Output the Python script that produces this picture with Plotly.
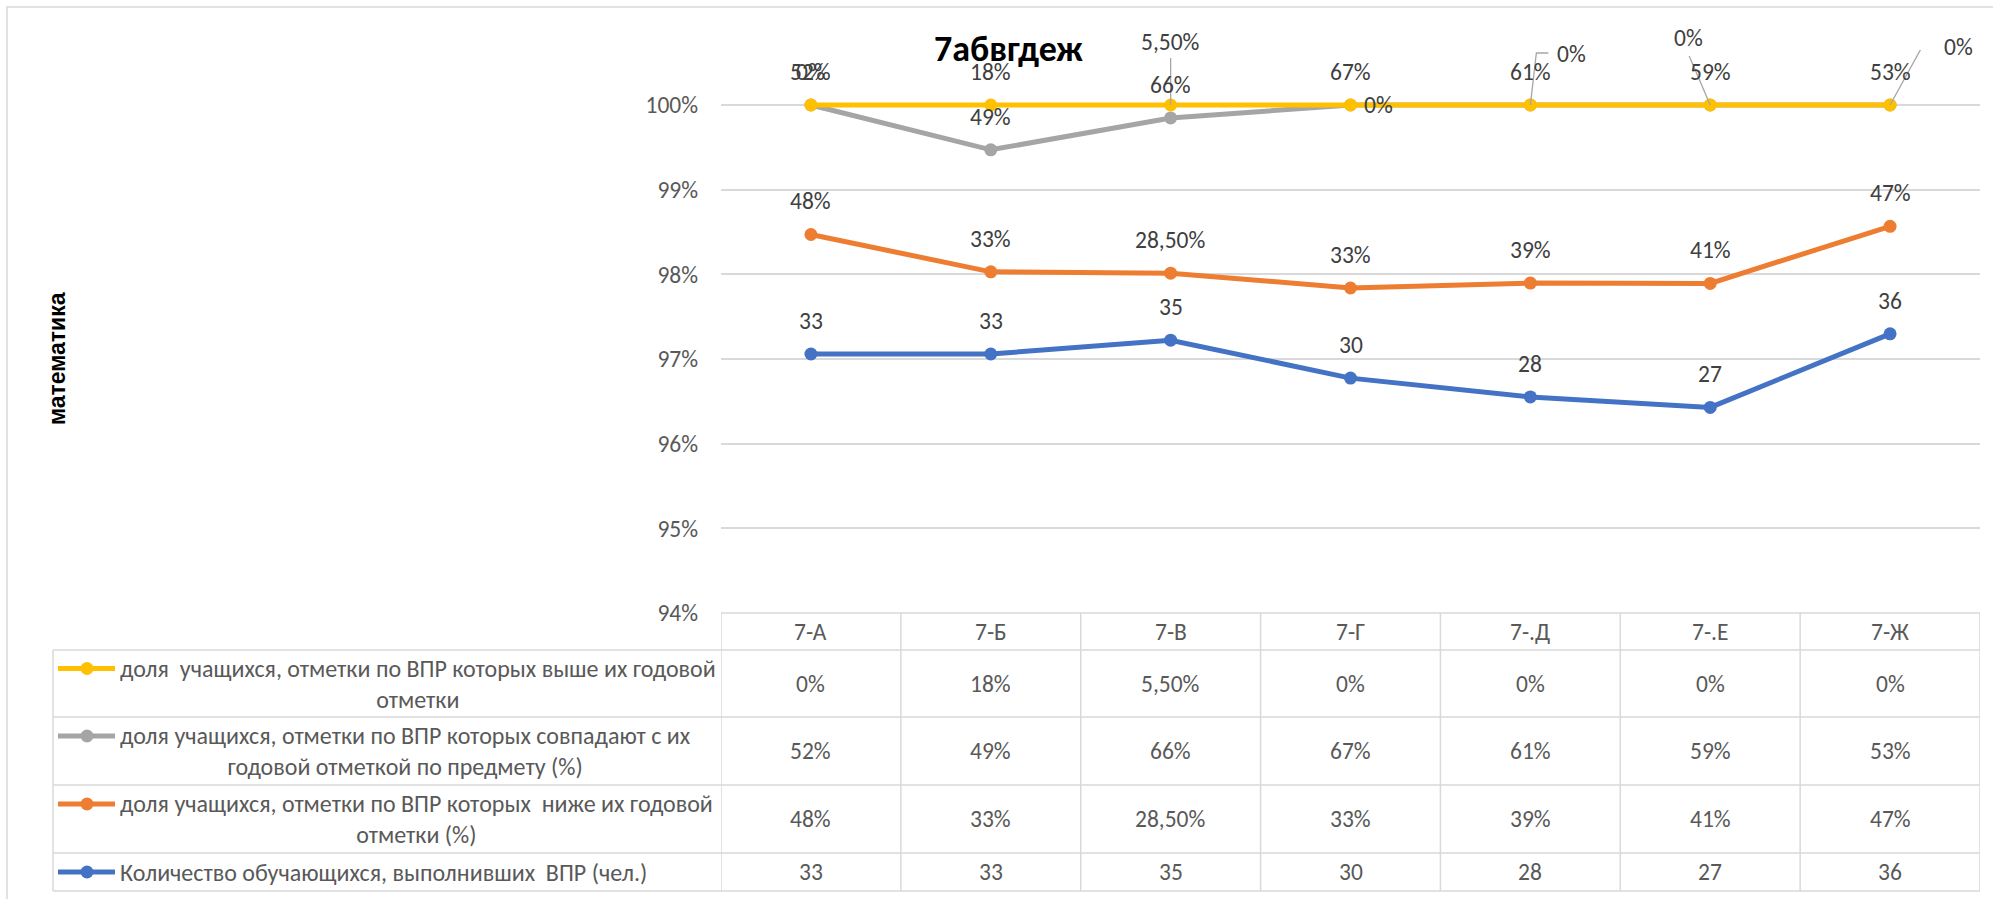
import numpy as np
import plotly.graph_objects as go

# ---------------- data ----------------
classes = ["7-А", "7-Б", "7-В", "7-Г", "7-.Д", "7-.Е", "7-Ж"]
above_pct = [0, 18, 5.5, 0, 0, 0, 0]          # доля выше годовой (%)
same_pct = [52, 49, 66, 67, 61, 59, 53]       # доля совпадают (%)
below_pct = [48, 33, 28.5, 33, 39, 41, 47]    # доля ниже (%)
count = [33, 33, 35, 30, 28, 27, 36]          # количество (чел.)

series_names = [
    "доля  учащихся, отметки по ВПР которых выше их годовой<br>отметки",
    "доля учащихся, отметки по ВПР которых совпадают с их<br>годовой отметкой по предмету (%)",
    "доля учащихся, отметки по ВПР которых  ниже их годовой<br>отметки (%)",
    "Количество обучающихся, выполнивших  ВПР (чел.)",
]
title_text = "7абвгдеж"
ytitle_text = "математика"

# ---------------- styling ----------------
W, H = 1993, 899
L, R, T, B = 721, 13, 50, 286
PW, PH = W - L - R, H - T - B
Y_MIN, Y_MAX = 94, 100 + 55 / 84.67   # 100% sits 55px below plot top
FONT = "Carlito, Lato, Roboto, 'Noto Sans', sans-serif"
C_Y, C_G, C_O, C_B = "#FFC000", "#A5A5A5", "#ED7D31", "#4472C4"
GRID = "#d9d9d9"
TXT = "#595959"
LBL = "#404040"
FS = 23.5
FS_ROW = 24


def px(x):
    return (x - L) / PW


def py(y):
    return (H - B - y) / PH


def fmt_pct(v):
    if float(v) == int(v):
        return f"{int(v)}%"
    return f"{v:.2f}%".replace(".", ",")


# 100% stacked line: Excel stacks raw values (percent as fractions)
raw = np.array([count, np.array(below_pct) / 100, np.array(same_pct) / 100,
                np.array(above_pct) / 100], dtype=float)
cum = np.cumsum(raw, axis=0)
pos = cum / cum[-1] * 100  # stacked position in percent

fig = go.Figure()
stack_info = [
    (pos[0], C_B, [str(v) for v in count]),
    (pos[1], C_O, [fmt_pct(v) for v in below_pct]),
    (pos[2], C_G, [fmt_pct(v) for v in same_pct]),
    (pos[3], C_Y, [fmt_pct(v) for v in above_pct]),
]
for yv, col, _ in stack_info:
    fig.add_trace(go.Scatter(
        x=classes, y=yv, mode="lines+markers",
        line=dict(color=col, width=5),
        marker=dict(color=col, size=13),
        cliponaxis=False, showlegend=False, hoverinfo="skip"))

annotations = []
shapes = []

# data labels (above the points)
special = {  # yellow series custom label placements: idx -> (xshift, yshift, leader path)
    2: (0, 63, "M 0,47 L 0,0"),
    3: (28, 0, None),
    4: (41, 51, "M 18,52 L 6,52 L 0,0"),
    5: (-22, 67, "M -21,49 L 0,0"),
    6: (68, 58, "M 0,0 L 33,60 L 44,60"),
}
for si, (yv, col, texts) in enumerate(stack_info):
    for i, c in enumerate(classes):
        xs, ys, path = 0, 33, None
        if si == 3 and i in special:
            xs, ys, path = special[i]
        annotations.append(dict(
            x=c, y=yv[i], xref="x", yref="y", text=texts[i], showarrow=False,
            xanchor="center", yanchor="middle",
            xshift=xs, yshift=ys, font=dict(family=FONT, size=FS, color=LBL)))
        if path:
            shapes.append(dict(
                type="path", xref="x", yref="y", xsizemode="pixel", ysizemode="pixel",
                xanchor=c, yanchor=yv[i], path=path,
                line=dict(color="#a6a6a6", width=1.3), layer="above"))

# title
annotations.append(dict(x=px(1008), y=py(49), xref="paper", yref="paper", text=f"<b>{title_text}</b>",
                        showarrow=False, xanchor="center", yanchor="middle",
                        font=dict(family=FONT, size=36, color="#000000")))
# y axis title
annotations.append(dict(x=px(57), y=py(359), xref="paper", yref="paper", text=f"<b>{ytitle_text}</b>",
                        showarrow=False, textangle=-90, xanchor="center", yanchor="middle",
                        font=dict(family="'Liberation Sans', Arial, sans-serif", size=23, color="#000000")))

# ---------------- data table ----------------
row_edges = [650, 717, 785, 853, 891]
row_centers = [(row_edges[k] + row_edges[k + 1]) / 2 for k in range(4)]
table_values = [
    [fmt_pct(v) for v in above_pct],
    [fmt_pct(v) for v in same_pct],
    [fmt_pct(v) for v in below_pct],
    [str(v) for v in count],
]
key_cols = [C_Y, C_G, C_O, C_B]

# header
for c in classes:
    annotations.append(dict(x=c, y=py(631.5), xref="x", yref="paper", text=c, showarrow=False,
                            xanchor="center", yanchor="middle",
                            font=dict(family=FONT, size=FS, color=TXT)))
# cells
for r in range(4):
    for i, c in enumerate(classes):
        annotations.append(dict(x=c, y=py(row_centers[r]), xref="x", yref="paper",
                                text=table_values[r][i], showarrow=False,
                                xanchor="center", yanchor="middle",
                                font=dict(family=FONT, size=FS, color=TXT)))
    annotations.append(dict(x=px(118), y=py(row_centers[r]), xref="paper", yref="paper",
                            text=series_names[r], showarrow=False, xanchor="left", yanchor="middle",
                            align="center", font=dict(family=FONT, size=FS_ROW, color=TXT)))
    # legend key
    ky = row_centers[r] - (15 if "<br>" in series_names[r] else 0)
    shapes.append(dict(type="line", xref="paper", yref="paper", x0=px(58), x1=px(115),
                       y0=py(ky), y1=py(ky), line=dict(color=key_cols[r], width=5)))
    shapes.append(dict(type="circle", xref="paper", yref="paper", x0=px(80.5), x1=px(93.5),
                       y0=py(ky - 6.5), y1=py(ky + 6.5), fillcolor=key_cols[r],
                       line=dict(width=0)))

# table grid lines
shapes.append(dict(type="line", xref="paper", yref="paper", x0=0, x1=1, y0=py(613), y1=py(613),
                   line=dict(color=GRID, width=1.5), layer="below"))
for ye in row_edges:
    shapes.append(dict(type="line", xref="paper", yref="paper", x0=px(53), x1=1, y0=py(ye), y1=py(ye),
                       line=dict(color=GRID, width=1.5), layer="below"))
shapes.append(dict(type="line", xref="paper", yref="paper", x0=px(53), x1=px(53),
                   y0=py(row_edges[0]), y1=py(row_edges[-1]), line=dict(color=GRID, width=1.5)))
for k in range(len(classes) + 1):
    shapes.append(dict(type="line", xref="x", yref="paper", x0=k - 0.5, x1=k - 0.5,
                       y0=py(613), y1=py(row_edges[-1]), line=dict(color=GRID, width=1.5)))

# outer chart border
shapes.append(dict(type="rect", xref="paper", yref="paper", x0=px(7), x1=px(1998), y0=py(7), y1=py(904),
                   line=dict(color="#d9d9d9", width=1.5), layer="below"))

fig.update_layout(
    width=W, height=H,
    margin=dict(l=L, r=R, t=T, b=B),
    paper_bgcolor="white", plot_bgcolor="white",
    showlegend=False,
    annotations=annotations, shapes=shapes,
    xaxis=dict(type="category", categoryorder="array", categoryarray=classes,
               range=[-0.5, len(classes) - 0.5], showticklabels=False, showgrid=False,
               zeroline=False, showline=False, ticks=""),
    yaxis=dict(range=[Y_MIN, Y_MAX], tick0=94, dtick=1, ticksuffix="%", showgrid=True, gridcolor=GRID,
               gridwidth=1.5, zeroline=False, showline=False, ticks="",
               ticklabelstandoff=22, tickfont=dict(family=FONT, size=FS, color=TXT)),
    font=dict(family=FONT),
)

fig.write_html("out.html", config={"displayModeBar": False},
               post_script="document.body.style.margin='0px';")
